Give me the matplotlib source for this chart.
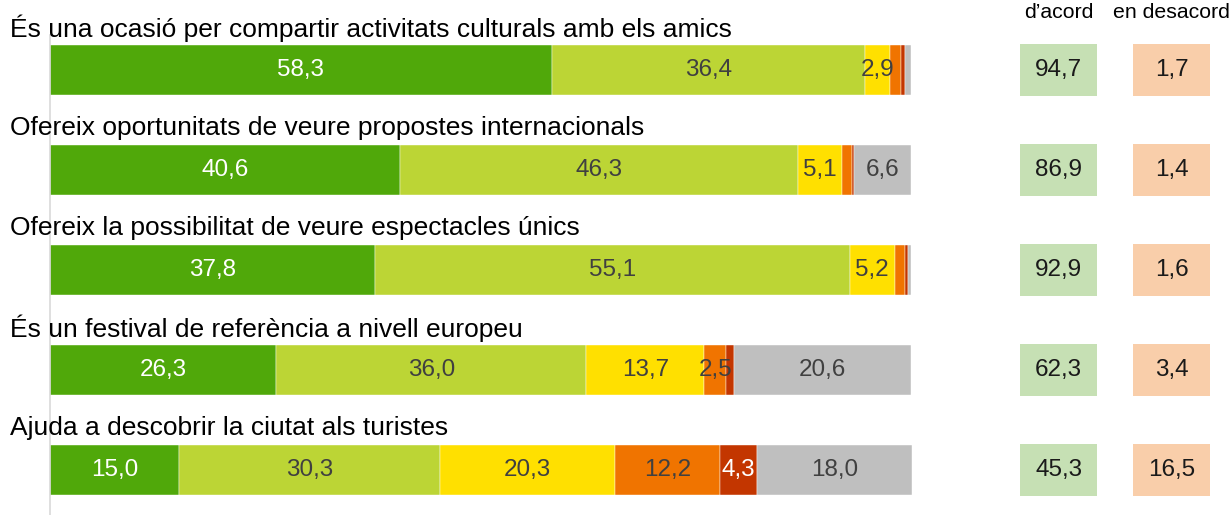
import numpy as np
import matplotlib
matplotlib.use("Agg")
import matplotlib.pyplot as plt

plt.rcParams['font.family'] = ['Liberation Sans', 'DejaVu Sans']

# Dades
categories = [
    "És una ocasió per compartir activitats culturals amb els amics",
    "Ofereix oportunitats de veure propostes internacionals",
    "Ofereix la possibilitat de veure espectacles únics",
    "És un festival de referència a nivell europeu",
    "Ajuda a descobrir la ciutat als turistes",
]
molt_acord = [58.3, 40.6, 37.8, 26.3, 15.0]
acord = [36.4, 46.3, 55.1, 36.0, 30.3]
ni_ni = [2.9, 5.1, 5.2, 13.7, 20.3]
desacord = [1.2, 1.2, 1.2, 2.5, 12.2]
molt_desacord = [0.5, 0.2, 0.4, 0.9, 4.3]
ns_nc = [0.7, 6.6, 0.3, 20.6, 18.0]
total_acord = [94.7, 86.9, 92.9, 62.3, 45.3]
total_desacord = [1.7, 1.4, 1.6, 3.4, 16.5]

series = [molt_acord, acord, ni_ni, desacord, molt_desacord, ns_nc]
colors = ['#50A80A', '#BCD535', '#FFE000', '#F07400', '#C33600', '#BFBFBF']
text_colors = ['white', '#404040', '#404040', '#404040', 'white', '#404040']

W, H = 1229, 515
fig = plt.figure(figsize=(W / 100, H / 100), dpi=100)
# eix: de x=50px fins al final, 8.61 px per punt percentual
ax = fig.add_axes([50 / W, -5 / H, (W - 50) / W, 500 / H])
ax.set_xlim(0, (W - 50) / 8.61)
ax.set_ylim(4.5, -0.5)
ax.axis('off')

y = np.arange(len(categories))
left = np.zeros(len(categories))
for vals, c, tc in zip(series, colors, text_colors):
    vals = np.array(vals)
    ax.barh(y, vals, left=left, height=0.5, color=c, edgecolor='white', linewidth=0.3)
    for yi, l, v in zip(y, left, vals):
        if v >= 2.5:
            ax.text(l + v / 2, yi, f"{v:.1f}".replace('.', ','), ha='center', va='center',
                    fontsize=17.5, color=tc)
    left += vals

ax.plot([0, 0], [-0.35, 4.5], color='#D9D9D9', lw=1.2, clip_on=False)

for yi, cat in zip(y, categories):
    ax.text(-4.65, yi - 0.42, cat, ha='left', va='center', fontsize=19, color='black',
            clip_on=False)

# Caixes de totals
box_w = 8.9
x_acord = 112.7
x_desac = 125.8
ax.barh(y, [box_w] * len(y), left=x_acord, height=0.52, color='#C6E0B4')
ax.barh(y, [box_w] * len(y), left=x_desac, height=0.52, color='#F9CEAA')
for yi, a, d in zip(y, total_acord, total_desacord):
    ax.text(x_acord + box_w / 2, yi, f"{a:.1f}".replace('.', ','), ha='center', va='center',
            fontsize=17.5, color='#1a1a1a')
    ax.text(x_desac + box_w / 2, yi, f"{d:.1f}".replace('.', ','), ha='center', va='center',
            fontsize=17.5, color='#1a1a1a')

ax.text(x_acord + box_w / 2, -0.58, "d’acord", ha='center', va='center', fontsize=15.3)
ax.text(x_desac + box_w / 2, -0.58, "en desacord", ha='center', va='center', fontsize=15.3)

fig.savefig("out.png", dpi=100)
